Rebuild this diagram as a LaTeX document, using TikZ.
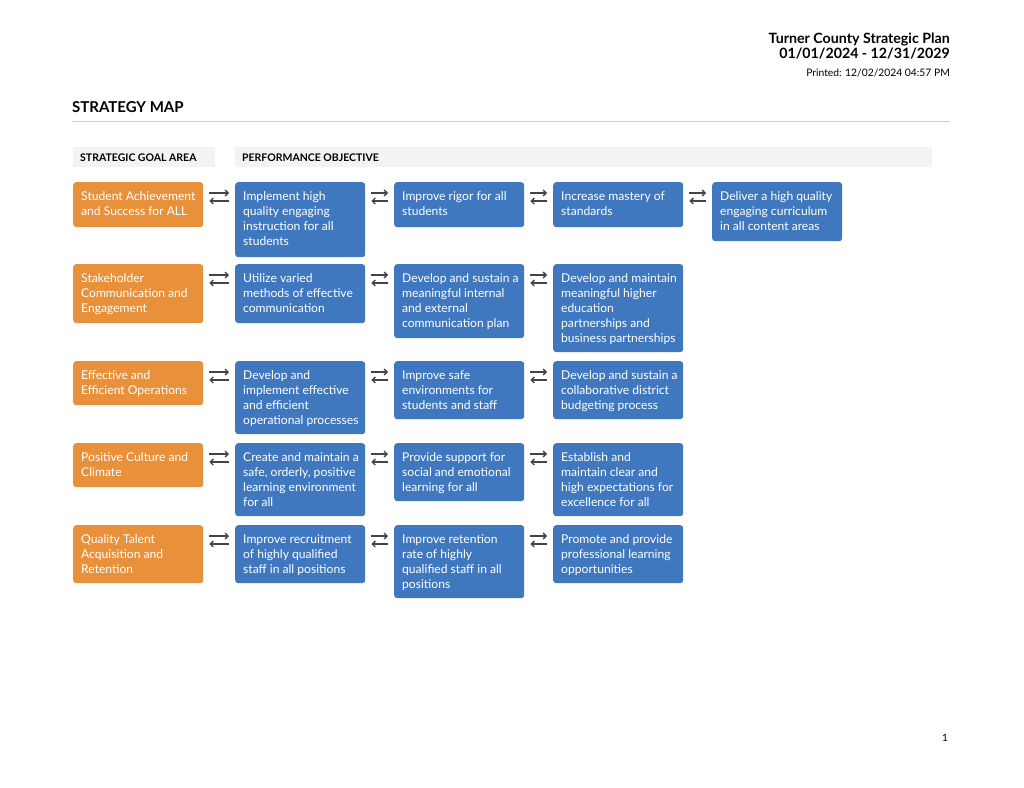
\documentclass[tikz,border=0pt]{standalone}
\usepackage{fontspec}
\setmainfont{Lato}
\usetikzlibrary{calc,arrows.meta}
\definecolor{org}{HTML}{E8913A}
\definecolor{blu}{HTML}{3F78BF}
\definecolor{hdr}{HTML}{F3F3F3}
\definecolor{arr}{HTML}{444444}
\tikzset{
 boxshape/.style={draw=none,rounded corners=3pt,inner sep=0pt,anchor=north west,minimum width=130pt},
 boxtext/.style={anchor=north west,inner sep=0pt,align=left,text=white,font=\fontsize{12.1}{15}\selectfont},
 arrline/.style={draw=arr,line width=1.3pt,-{Straight Barb[length=3pt,width=6pt]}},
}
\newcommand{\bx}[6]{%
 \node[boxshape,fill=#5,minimum height=#4pt] (#1) at (#2,#3) {};
 \node[boxtext] (#1t) at ($(#1.north west)+(8,9)$) {#6};}
\newcommand{\lnk}[2]{%
 \draw[arrline] ($(#1.north east)+(6,11)$) -- ($(#2.north west)+(-6,11)$);
 \draw[arrline] ($(#2.north west)+(-6,19)$) -- ($(#1.north east)+(6,19)$);}
\begin{document}
\begin{tikzpicture}[x=1pt,y=-1pt]
\useasboundingbox[fill=white] (0,0) rectangle (1024,787);
\node[anchor=base east,inner sep=0pt,font=\bfseries\fontsize{14.2}{16}\selectfont] (t1) at (950,43) {Turner County Strategic Plan};
\node[anchor=base east,inner sep=0pt,font=\bfseries\fontsize{14.2}{16}\selectfont] (t2) at (950,58) {01/01/2024 - 12/31/2029};
\node[anchor=base east,inner sep=0pt,font=\fontsize{10.3}{12}\selectfont] (t3) at (950,76) {Printed: 12/02/2024 04:57 PM};
\node[anchor=base west,inner sep=0pt,font=\bfseries\fontsize{15}{18}\selectfont] (sm) at (72,112) {STRATEGY MAP};
\draw[draw=black!20,line width=0.8pt] (72,121) -- (950,121);
\fill[hdr] (73,147) rectangle (215,167);
\fill[hdr] (235,147) rectangle (932,167);
\node[anchor=base west,inner sep=0pt,font=\bfseries\fontsize{10.5}{12}\selectfont] (h1) at (80,161) {STRATEGIC GOAL AREA};
\node[anchor=base west,inner sep=0pt,font=\bfseries\fontsize{10.5}{12}\selectfont] (h2) at (242,161) {PERFORMANCE OBJECTIVE};
% row 1
\bx{a0}{73}{182}{45}{org}{Student Achievement\\and Success for ALL}
\bx{a1}{235}{182}{75}{blu}{Implement high\\quality engaging\\instruction for all\\students}
\bx{a2}{394}{182}{45}{blu}{Improve rigor for all\\students}
\bx{a3}{553}{182}{45}{blu}{Increase mastery of\\standards}
\bx{a4}{712}{182}{59}{blu}{Deliver a high quality\\engaging curriculum\\in all content areas}
\lnk{a0}{a1}\lnk{a1}{a2}\lnk{a2}{a3}\lnk{a3}{a4}
% row 2
\bx{b0}{73}{264}{59}{org}{Stakeholder\\Communication and\\Engagement}
\bx{b1}{235}{264}{59}{blu}{Utilize varied\\methods of effective\\communication}
\bx{b2}{394}{264}{74}{blu}{Develop and sustain a\\meaningful internal\\and external\\communication plan}
\bx{b3}{553}{264}{88}{blu}{Develop and maintain\\meaningful higher\\education\\partnerships and\\business partnerships}
\lnk{b0}{b1}\lnk{b1}{b2}\lnk{b2}{b3}
% row 3
\bx{c0}{73}{361}{44}{org}{Effective and\\Efficient Operations}
\bx{c1}{235}{361}{73}{blu}{Develop and\\implement effective\\and efficient\\operational processes}
\bx{c2}{394}{361}{58}{blu}{Improve safe\\environments for\\students and staff}
\bx{c3}{553}{361}{58}{blu}{Develop and sustain a\\collaborative district\\budgeting process}
\lnk{c0}{c1}\lnk{c1}{c2}\lnk{c2}{c3}
% row 4
\bx{d0}{73}{443}{44}{org}{Positive Culture and\\Climate}
\bx{d1}{235}{443}{73}{blu}{Create and maintain a\\safe, orderly, positive\\learning environment\\for all}
\bx{d2}{394}{443}{58}{blu}{Provide support for\\social and emotional\\learning for all}
\bx{d3}{553}{443}{73}{blu}{Establish and\\maintain clear and\\high expectations for\\excellence for all}
\lnk{d0}{d1}\lnk{d1}{d2}\lnk{d2}{d3}
% row 5
\bx{e0}{73}{525}{58}{org}{Quality Talent\\Acquisition and\\Retention}
\bx{e1}{235}{525}{58}{blu}{Improve recruitment\\of highly qualified\\staff in all positions}
\bx{e2}{394}{525}{73}{blu}{Improve retention\\rate of highly\\qualified staff in all\\positions}
\bx{e3}{553}{525}{58}{blu}{Promote and provide\\professional learning\\opportunities}
\lnk{e0}{e1}\lnk{e1}{e2}\lnk{e2}{e3}
\node[anchor=base east,inner sep=0pt,font=\fontsize{10}{12}\selectfont] (pg) at (948,741) {1};
\end{tikzpicture}
\end{document}
